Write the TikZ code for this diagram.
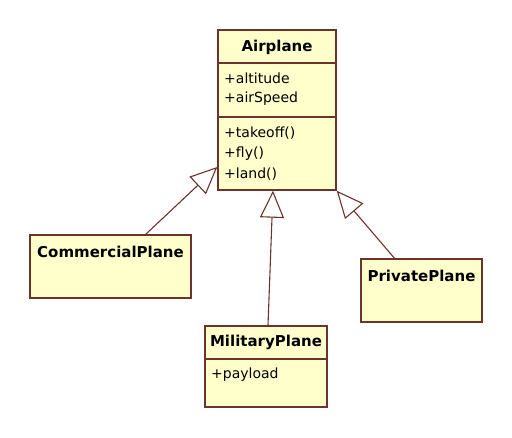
\documentclass[tikz,border=0pt]{standalone}
\usepackage{fontspec}
\setmainfont{DejaVu Sans}
\usetikzlibrary{arrows.meta}
\definecolor{umlfill}{RGB}{255,255,204}
\definecolor{umlline}{RGB}{110,50,45}
\tikzset{
  classbox/.style={draw=umlline,fill=umlfill,line width=1.4pt,inner sep=0pt},
  classname/.style={font=\fontsize{15}{17}\selectfont\bfseries,inner sep=0pt},
  member/.style={anchor=west,font=\fontsize{14}{16}\selectfont,inner sep=0pt},
  divider/.style={draw=umlline,line width=1.4pt},
  inherit/.style={draw=umlline,line width=1.1pt,-{Triangle[length=27pt,width=24pt,fill=white,line width=1.1pt]}}
}

\begin{document}
\begin{tikzpicture}[x=1pt,y=-1pt]
  \useasboundingbox (0,0) rectangle (512,438);
  % Airplane
  \node[classbox,minimum width=118pt,minimum height=160pt] (airplane) at (277,110) {};
  \draw[divider] (airplane.west |- 0,63) -- (airplane.east |- 0,63);
  \draw[divider] (airplane.west |- 0,117) -- (airplane.east |- 0,117);
  \node[classname] (airplanename) at (277,47) {Airplane};
  \node[member] (altitude) at (224,78) {+altitude};
  \node[member] (airspeed) at (224,99) {+airSpeed};
  \node[member] (takeoff) at (224,133) {+takeoff()};
  \node[member] (fly) at (224,154) {+fly()};
  \node[member] (land) at (224,174) {+land()};
  % subclasses
  \node[classbox,minimum width=161pt,minimum height=63pt] (commercial) at (110.5,266.5) {};
  \node[classname] (commercialname) at (110.5,252) {CommercialPlane};
  \node[classbox,minimum width=122pt,minimum height=81pt] (military) at (266,366.5) {};
  \draw[divider] (military.west |- 0,359) -- (military.east |- 0,359);
  \node[classname] (militaryname) at (266,342) {MilitaryPlane};
  \node[member] (payload) at (211,375) {+payload};
  \node[classbox,minimum width=121pt,minimum height=63pt] (private) at (421.5,290.5) {};
  \node[classname] (privatename) at (421.5,276) {PrivatePlane};
  % generalisation
  \draw[inherit] ([xshift=-46pt]commercial.north east) -- ([yshift=-57pt]airplane.west);
  \draw[inherit] ([xshift=2pt]military.north) -- ([xshift=-4pt]airplane.south);
  \draw[inherit] ([xshift=-27pt]private.north) -- (airplane.south east);
\end{tikzpicture}
\end{document}
